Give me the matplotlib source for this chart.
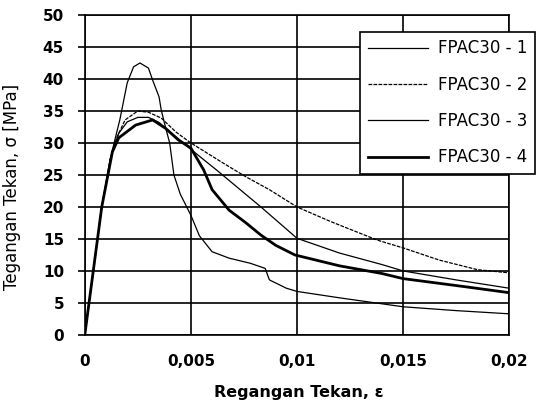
import matplotlib
matplotlib.use("Agg")
import matplotlib.pyplot as plt
from matplotlib.ticker import FuncFormatter

# strain / stress
eps_1 = [0, 0.0004, 0.0008, 0.0013, 0.00165, 0.002, 0.0023, 0.0026, 0.003, 0.0032, 0.0035, 0.0036,
         0.0038, 0.004, 0.0042, 0.0045, 0.005, 0.0054, 0.006, 0.0068, 0.0078, 0.0085, 0.0087,
         0.0095, 0.01, 0.012, 0.015, 0.0175, 0.02]
sig_1 = [0, 10, 20, 28.9, 33.6, 39.4, 41.9, 42.5, 41.7, 39.8, 37.2, 35.2,
         32.5, 30, 25, 22, 18.7, 15.5, 13, 12, 11.2, 10.4, 8.6,
         7.3, 6.8, 5.8, 4.4, 3.8, 3.3]

eps_2 = [0, 0.0004, 0.0008, 0.0012, 0.0015, 0.0019, 0.0025, 0.003, 0.0036, 0.0043, 0.005,
         0.0065, 0.0076, 0.0087, 0.01, 0.0116, 0.0138, 0.015, 0.0167, 0.0185, 0.02]
sig_2 = [0, 10, 20, 27.5, 30.8, 33.6, 35, 34.8, 33.9, 31.7, 30,
         26.9, 24.7, 22.7, 20, 17.7, 14.8, 13.6, 11.7, 10.2, 9.7]

eps_3 = [0, 0.0004, 0.0008, 0.0012, 0.0016, 0.002, 0.0025, 0.003, 0.0035, 0.004, 0.0045, 0.005,
         0.0062, 0.0083, 0.01, 0.012, 0.014, 0.015, 0.0175, 0.02]
sig_3 = [0, 10, 20, 27.5, 31.5, 33.3, 34, 34, 33.2, 31.8, 30.4, 29,
         25.8, 20, 15.1, 12.8, 11, 10, 8.6, 7.3]

eps_4 = [0, 0.0004, 0.0008, 0.0013, 0.0016, 0.0024, 0.0032, 0.0038, 0.0044, 0.005, 0.0056, 0.006,
         0.0068, 0.0076, 0.0083, 0.009, 0.0099, 0.012, 0.014, 0.015, 0.018, 0.02]
sig_4 = [0, 10, 20, 28.6, 30.8, 32.8, 33.6, 32.3, 30.5, 29.2, 25.8, 22.7,
         19.5, 17.5, 15.6, 14, 12.5, 10.8, 9.6, 8.8, 7.5, 6.6]

labels = ["FPAC30 - 1", "FPAC30 - 2", "FPAC30 - 3", "FPAC30 - 4"]
x_ticks = [0, 0.005, 0.01, 0.015, 0.02]
x_tick_labels = ["0", "0,005", "0,01", "0,015", "0,02"]
y_ticks = [0, 5, 10, 15, 20, 25, 30, 35, 40, 45, 50]

fig = plt.figure(figsize=(5.4, 4.05), dpi=100)
ax = fig.add_axes([0.157, 0.173, 0.786, 0.79])

ax.plot(eps_1, sig_1, color="black", lw=0.9, label=labels[0])
ax.plot(eps_2, sig_2, color="black", lw=0.9, ls=(0, (3, 1)), label=labels[1])
ax.plot(eps_3, sig_3, color="black", lw=0.9, label=labels[2])
ax.plot(eps_4, sig_4, color="black", lw=2.0, label=labels[3])

ax.set_xlim(0, 0.02)
ax.set_ylim(0, 50)
ax.set_xticks(x_ticks)
ax.xaxis.set_major_formatter(FuncFormatter(lambda v, p: x_tick_labels[p] if p is not None and p < len(x_tick_labels) else ""))
ax.set_yticks(y_ticks)
ax.grid(True, color="black", lw=1.2)
ax.set_axisbelow(True)
for s in ax.spines.values():
    s.set_color("black")
    s.set_linewidth(1.2)

ax.tick_params(axis="y", length=5, width=1.2, pad=10)
ax.tick_params(axis="x", length=0, pad=14)
for t in ax.get_xticklabels() + ax.get_yticklabels():
    t.set_fontsize(11)
    t.set_fontweight("bold")

ax.set_xlabel("Regangan Tekan, ε", fontsize=11.5, fontweight="bold")
ax.xaxis.set_label_coords(0.505, -0.156)
ax.set_ylabel("Tegangan Tekan, σ [MPa]", fontsize=12)
ax.yaxis.set_label_coords(-0.151, 0.4625)

leg = ax.legend(loc="upper left", bbox_to_anchor=(0.649, 0.947), borderaxespad=0,
                fancybox=False, edgecolor="black", framealpha=1, fontsize=12,
                handlelength=3.6, handletextpad=0.6, labelspacing=1.1, borderpad=0.45)
leg.get_frame().set_linewidth(1.2)

fig.savefig("out.png", dpi=100)
